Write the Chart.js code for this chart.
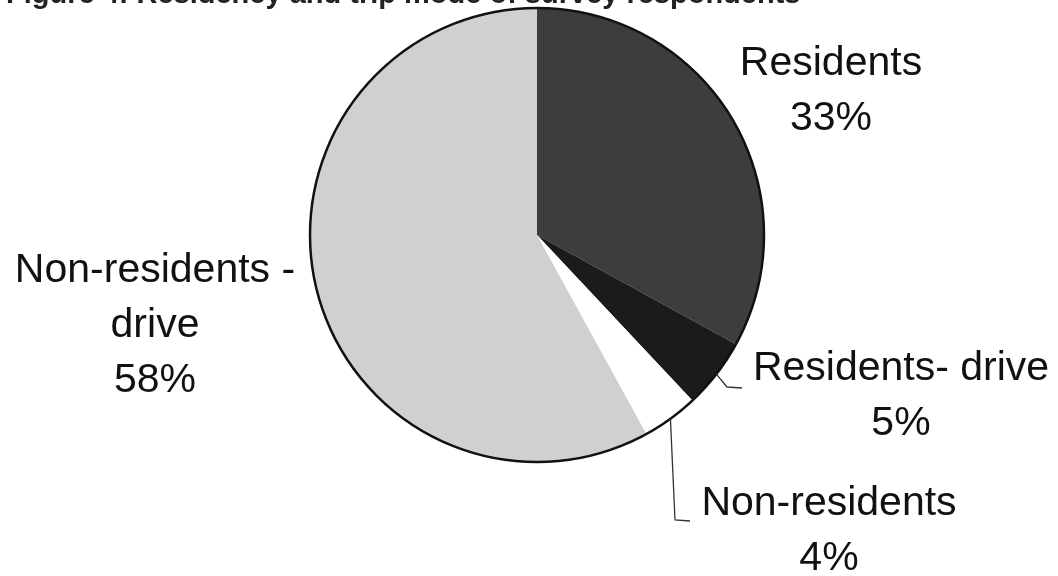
<!DOCTYPE html>
<html>
<head>
<meta charset="utf-8">
<script src="https://cdn.jsdelivr.net/npm/chart.js@4"></script>
<style>
  html, body { margin: 0; padding: 0; background: #fff; overflow: hidden; }
  #wrap { position: relative; width: 1058px; height: 576px; }
  #title { position: absolute; left: 6px; top: -23px; font: bold 29px "Liberation Sans", Arial, sans-serif; color: #222; white-space: nowrap; line-height: 32px; }
</style>
</head>
<body>
<div id="wrap">
  <canvas id="pie"></canvas>
  <div id="title">Figure 4: Residency and trip mode of survey respondents</div>
</div>
<script>
const categories = [['Residents'], ['Residents- drive'], ['Non-residents'], ['Non-residents -', 'drive']];
const shares = [33, 5, 4, 58];
const colors = ['#3d3d3d', '#1b1b1b', '#ffffff', '#d0d0d0'];

// where each label sits, and the elbow of its leader line (null = no leader)
const labelSpots = [
  { x: 831, y: 75, leader: null },
  { x: 901, y: 380, leader: [[727, 387], [742, 388]] },
  { x: 829, y: 515, leader: [[675, 520], [690, 521]] },
  { x: 155, y: 282, leader: null }
];

const pieLabels = {
  id: 'pieLabels',
  afterDatasetsDraw(chart) {
    const ctx = chart.ctx;
    const arcs = chart.getDatasetMeta(0).data;
    const a0 = arcs[0];
    ctx.save();
    // outer outline of the pie
    ctx.beginPath();
    ctx.arc(a0.x, a0.y, a0.outerRadius, 0, Math.PI * 2);
    ctx.lineWidth = 2.5;
    ctx.strokeStyle = '#111';
    ctx.stroke();

    ctx.font = '41px "Liberation Sans", Arial, sans-serif';
    ctx.fillStyle = '#111';
    ctx.textAlign = 'center';
    ctx.textBaseline = 'alphabetic';
    arcs.forEach((arc, i) => {
      const spot = labelSpots[i];
      const lines = categories[i].concat([shares[i] + '%']);
      lines.forEach((t, j) => ctx.fillText(t, spot.x, spot.y + j * 55));
      if (spot.leader) {
        const mid = (arc.startAngle + arc.endAngle) / 2;
        ctx.beginPath();
        ctx.moveTo(arc.x + Math.cos(mid) * arc.outerRadius, arc.y + Math.sin(mid) * arc.outerRadius);
        spot.leader.forEach(p => ctx.lineTo(p[0], p[1]));
        ctx.lineWidth = 1.3;
        ctx.strokeStyle = '#333';
        ctx.stroke();
      }
    });
    ctx.restore();
  }
};

new Chart(document.getElementById('pie'), {
  type: 'pie',
  data: {
    labels: categories,
    datasets: [{
      data: shares,
      backgroundColor: colors,
      borderWidth: 0
    }]
  },
  options: {
    responsive: true,
    maintainAspectRatio: false,
    animation: false,
    layout: { padding: { top: 8, bottom: 114, left: 310, right: 294 } },
    plugins: {
      legend: { display: false },
      tooltip: { enabled: false }
    }
  },
  plugins: [pieLabels]
});
</script>
</body>
</html>
